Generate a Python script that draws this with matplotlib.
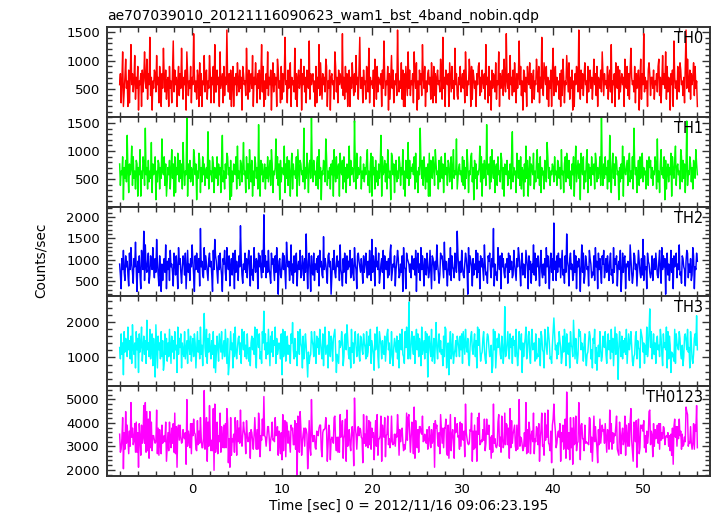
import numpy as np
import matplotlib
matplotlib.use("Agg")
import matplotlib.pyplot as plt
from matplotlib.ticker import MultipleLocator

# Light curves, one character per time sample:
# counts in a 1/64 s frame, coded 0-9, a=10 ... z=35, A=36 ...
ALPHABET = "0123456789abcdefghijklmnopqrstuvwxyzABCDEFGHIJ"
RATE_PER_COUNT = 64.0
T_START, T_END = -8.0, 56.0

th0_counts = """
9c4ai37bg8a3d4bk9c7ah5b8e2a9c3d7bia8g5c9m6b2a8dc7h9b4ea3c8jb7d5a
b3e8a4cl7d9b3ae6c8ja5b9d2ic6a8e4b9nc7a5db3f6c3a9h7bd5a8hc4b9e4k7
7d9b3i8ac4e6b9oa7c5d3ae3b9c6fa7d8b2ec9a6jb5d7ac8h3b9fa4c8d5bk7e3
a5c8i6b9d2af7c9b3gd8a4e5c7bm9a4d8cf3b9a7j5c3bd8ag2c9e7b4da8l5c9b
c7a3e4b8k6fa5c9b7ge3a8d2bc9a5ie7b4d9ca8n6b5e7c3ad3b8fa6c7h9b5dm8
8b4d9a5ec7j4b9a8d3gc5e7ba9c3d8lb6a9e2c5bh8d4a9c6ob7a8f5d3c3ea6i8
d6a9c4ib8f2a5d9c6kb8e3a7cd9b5fa4e6c4bd9a7gc5m8b3da9c3fb7e8a5j9c6
5b9e7ac8d4ib6a9gc3e5db8a3c9ef6b7da8c5k9b4e6a2d8cb7f5a9i3c8bd6ga7n
a8c5h9b6d7fa4c8bl9e6a2dc7b3ea9f8c4bd5a9gc7e4b8ma6fc9e5b3a8d3cj6b
e7b9a5c3d6gb4a9hc7f5b8d2a3c9eb7oa5d8c6bf9a4e7cd8b5ag9c6e3ba8d7ic
6c9a8e5bd7k4a9c3fb8e5d7ac9b3ga8e6c5djb9a7e4c8bd2ag5c9n7b8a3dfc6b
b8d5a9c7eg6b4ah9c8i5e7ba2c9d3lb8a5ec7fd9a6b4eo8ga7d5c9bf6e8a3cd7
"""

th1_counts = """
c6a9e2b8d7ka4c9bh6e8a5dc3b9g3a8ec6m9b5d7a8i4c9be2a7dc5b8ja9e6c3
7b9d5ag8c3e4b9fa7d8c5ib6a9p3c8d7ba6ge9c2a8fd4b7e9c6ab8l5d9a7ec4b
a8e6c9b4dk7a5c8fe9b2d3a7cb9e5h8a6dc7bi9a4e8c5gb7d3a6ec8b5na3d9c7
9c5b8e7ad6gc4a9bj8e6c2d7ba9h4c8e6da3bf5c9a8e3gb6dc9a7m5b8fa4cd8p
b7d9a6ce5g8b2a9dc7je6a8b5c9d3ga7e8bc3fa9d5e7b4c8ah6d9ba7oc5f8b9a
e5a8c7b9dg6a4cf3e9b5d7a6c8bk3e9ad7c5gb8a2fe9c4bd7a8ec6b9g5a3dc8i
6d8bac9e5f7a4b9mc8d6ea5b7c3f3da8eb6gc9a5d7be8c4af9b6dc7ae5bg8a9j
58bc9a7e6d5b8gc4a9ef7b2d8c5a9bh7e3c8da6nb9c5e7ga8d4bc6e9a7fd5b3c
b9d6a8c5el7b9a4fc8d6e5ba3c7h8d3ae6cb9f5a7dg8c6e4b9a5dc7ie8b6a9cb
7e9a6dc8b5g9a4ce7fb8d6a5c9e3bh7ad8c2fb9e5a7dg4c8b6ea9c5fd7b8ae6r
a6c8e9b5d7ka4bf8c6ed9a2b7c8h3ea9bd6cf7a8e5mc9b4ad6e8cf7b9a5dc6eb
d8b6a9ec5j7a4cg9b8e2d5ac7b9f3ea8dh6bc9a5ge7d8c4bo6a9ec7b5da8gc9a
"""

th2_counts = """
ea5gcjb8hdfa6ickeb7gdmc4fbha5jecq8ldbfi7aheckd9gbnfa6hc4e8dgbl5f
cg8jdeb6ifahc5kegb7dhfai5cjbe8gdlfa4hciebg6rdfa9kcheb8gidfa4jcnh
fb7hcida4gejb8kfch6dgaie5jbfc8hdsga7ecibg9fjd6hac8kebgf5idhc9jbw
dh9fbjca7iegc8hbkd3fga9eichb5mgdf8clae7hbgi6dfcj9ahe8gbpd5fic4hb
ai8ecgbh6jdfa9ocgeb7hidf3agcjb9ehdf8lca6gbie7hcfdj9agb8kec5hifdb
gc7hbeid9fajc8nbhe6kdfci7aegbj5hdcf9gail8bedh6cfjg9aebh4kdc5igfe
be9hdcgaj4fibe8kchd6gfaie9bjc5hgd8fcleb7aighd9mcfb6egak8hdc9ifbq
hc8fbjda9eigc3kbhfd6gaecj9ibf5hdgc8leab7hfic9gdr6eab8kfch5idgb9e
dg7ibhcf9ajeb8gdkhc6fiaeb9jgd5hcf7eblai8gdhc6fjb9eag7kdhc5fibg8t
cf8hbidg9ejac7hbpfd6gice8ajbh5fdgc4elbi7ahfcd6jge9bah8kdf5icgb7h
ej9cgbhd8fiac7kbgeh6dfcj4aibgh5edfc8lgb7aihce6djfb9gan8hcd5ifeb9
bh8dgciea9fjb7kchdg3fiae8cjbg5hdfi9eclab7hgdc6fji9ebg8akh5dcif7gv
"""

th3_counts = """
kfqhm8riolgtjnfpdukhmbrjo9qiltekphndwjmgsfkqcoi7ulbpjmfrgnadqhoe
mgskdpinfrjl9thokqbmigrfjndslhpekogqmbjrinfthlcpzkgsdoiqjfnhrbl9
hpkeqmirfjngsldo8ckrjmbqgtifkophmdsnjrglfqiekcmpjohtgbsnkqfidrmA
jqfmhskcpirgnltdohjmkfq8sgirenphlkdqmvjfogicrnhsmkbpfjqle7idghrn
lgrjdpkohsmifqcnthjlbrkgpmeoqsj9hfdnklrmcgpqjuohfkbsimdnrlgjqhep
ojhqmkfrgiplsdnkhaqjmtgbrolfnihpekqsjmdgrhckolipfnbqmjshgdrktlfE
ifnrkhpdmsjqgolcthknfriq7mpjgsehodlvkfmqinhjcpgtsbkm8lrfiqdhjngp
nkgpjqdrmhsliofckprjhmqgnbtlskehiorjfdmqpkghl9csjrbiokqmhfpldjCg
hmrjfqkodplngsichrkjq9mglotfiprhdnsjkmeqfhgolcrpjibsnkhtqmfgdlrx
qjlfmhrnkdgpisocqjhmbrlkgwnfoidhsprjmkelqgchinrpfjbomsdkahlgrje
gplkrhdmqjnfsiockthqm6jrlgpfniohsdkqjmrlecghprfnkjbsqoimdlhtgkrB
krfiqhmdnpjlgsohcqkmjtbrfpl9ighesdqmkjrohflcgpqnjsikbrmfdhoqlyj
"""

band_names = ["TH0", "TH1", "TH2", "TH3", "TH0123"]
band_colors = ["#ff0000", "#00ff00", "#0000ff", "#00ffff", "#ff00ff"]
y_limits = [(10, 1590), (5, 1612), (140, 2240), (190, 2720), (1740, 5560)]
y_major = [500, 500, 500, 1000, 1000]
y_minor = [100, 100, 100, 200, 200]

title = "ae707039010_20121116090623_wam1_bst_4band_nobin.qdp"
x_label = "Time [sec] 0 = 2012/11/16 09:06:23.195"
y_label = "Counts/sec"


def decode(block):
    chars = "".join(block.split())
    return np.array([ALPHABET.index(c) for c in chars], dtype=float)


def main():
    bands = [decode(b) for b in (th0_counts, th1_counts, th2_counts, th3_counts)]
    n = min(len(b) for b in bands)
    bands = [b[:n] for b in bands]
    bands.append(np.sum(bands, axis=0))
    rates = [b * RATE_PER_COUNT for b in bands]
    t = np.linspace(T_START, T_END, n)

    plt.rcParams["font.family"] = ["DejaVu Sans"]
    fig = plt.figure(figsize=(7.17, 5.16), dpi=100)

    W, H = 717.0, 516.0
    left, right = 107 / W, 710 / W
    top_px, bot_px = 27.0, 476.0
    ph = (bot_px - top_px) / 5

    for i in range(5):
        y0 = 1 - (top_px + ph * (i + 1)) / H
        ax = fig.add_axes([left, y0, right - left, ph / H])
        ax.plot(t, rates[i], color=band_colors[i], lw=1.05)
        ax.set_xlim(-9.4, 57.4)
        ax.set_ylim(*y_limits[i])
        ax.xaxis.set_major_locator(MultipleLocator(10))
        ax.xaxis.set_minor_locator(MultipleLocator(2))
        ax.yaxis.set_major_locator(MultipleLocator(y_major[i]))
        ax.yaxis.set_minor_locator(MultipleLocator(y_minor[i]))
        ax.tick_params(which="both", direction="in", top=True, right=True,
                       color="#333333", labelsize=9.5, pad=5)
        ax.tick_params(which="major", length=6, width=1.0)
        ax.tick_params(which="minor", length=3.5, width=1.0)
        for s in ax.spines.values():
            s.set_linewidth(1.4)
            s.set_color("#333333")
        if i < 4:
            ax.tick_params(labelbottom=False)
        ax.text(0.988, 0.955, band_names[i], transform=ax.transAxes,
                ha="right", va="top", fontsize=10.5)

    fig.text(left, 1 - 15.5 / H, title, ha="left", va="center", fontsize=10)
    fig.text((left + right) / 2, 1 - 506 / H, x_label, ha="center",
             va="center", fontsize=9.8)
    fig.text(41 / W, 1 - 260 / H, y_label, ha="center", va="center",
             rotation=90, fontsize=9.8)

    fig.savefig("out.png", dpi=100)
    plt.close(fig)


if __name__ == "__main__":
    main()
